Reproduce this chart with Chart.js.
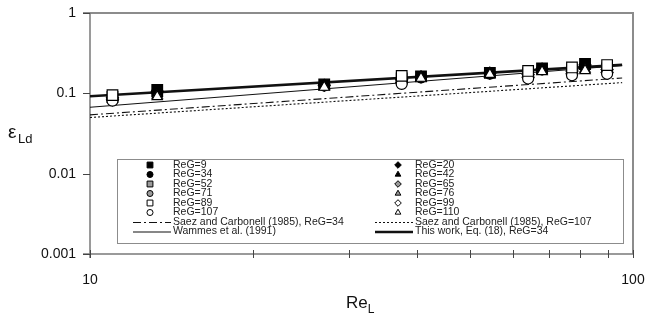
<!DOCTYPE html>
<html>
<head>
<meta charset="utf-8">
<script src="https://cdn.jsdelivr.net/npm/chart.js@4/dist/chart.umd.min.js"></script>
<style>
  html, body { margin: 0; padding: 0; background: #fff; }
  #wrap { width: 646px; height: 321px; }
</style>
</head>
<body>
<div id="wrap"><canvas id="c" width="646" height="321"></canvas></div>
<script>
// Liquid-phase axial dispersion vs liquid Reynolds number (log-log)

// --- axis ticks ---
const xTickValues = [10, 20, 30, 40, 50, 60, 70, 80, 90, 100];
const xTickLabels = ['10', '', '', '', '', '', '', '', '', '100'];
const yTickValues = [0.001, 0.01, 0.1, 1];
const yTickLabels = ['0.001', '0.01', '0.1', '1'];

// --- measured points, grouped by gas Reynolds number ---
// series measured at the "lower" ReL positions
const reA = [13.3, 27.0, 40.7, 54.5, 68.0, 81.6];
const epsReG9   = [0.110, 0.129, 0.163, 0.180, 0.205, 0.232];
const epsReG20  = [0.106, 0.126, 0.160, 0.178, 0.201, 0.226];
const epsReG34  = [0.104, 0.125, 0.158, 0.176, 0.199, 0.222];
const epsReG42  = [0.100, 0.123, 0.157, 0.175, 0.196, 0.218];
const epsReG76  = [0.095, 0.121, 0.156, 0.174, 0.190, 0.200];
const epsReG110 = [0.091, 0.119, 0.154, 0.172, 0.186, 0.192];
// series measured at the "upper" ReL positions
const reB = [11.0, 37.5, 64.1, 77.2, 89.6];
const epsReG52  = [0.090, 0.153, 0.178, 0.195, 0.205];
const epsReG65  = [0.088, 0.148, 0.172, 0.189, 0.198];
const epsReG71  = [0.086, 0.142, 0.166, 0.183, 0.190];
const epsReG89  = [0.095, 0.165, 0.190, 0.210, 0.225];
const epsReG99  = [0.083, 0.136, 0.159, 0.175, 0.182];
const epsReG107 = [0.081, 0.131, 0.153, 0.168, 0.175];

// --- correlations ---
const reLine = [10, 95.5];
const saez34   = [0.054, 0.155];
const saez107  = [0.050, 0.136];
const wammes   = [0.067, 0.222];
const thisWork = [0.092, 0.226];

const FONT = '"Liberation Sans", Arial, sans-serif';
const GREY = '#9a9a9a';

function pts(xs, ys) { return xs.map((x, i) => ({ x: x, y: ys[i] })); }

function marker(label, xs, ys, style, fill, radius, rotation) {
  return {
    type: 'scatter', label: label, data: pts(xs, ys),
    pointStyle: style, pointRadius: radius, pointHoverRadius: radius,
    pointRotation: rotation || 0,
    backgroundColor: fill, borderColor: '#000', pointBorderWidth: 1.2,
    showLine: false
  };
}
function curve(label, ys, width, dash) {
  return {
    type: 'scatter', label: label, data: pts(reLine, ys),
    showLine: true, pointRadius: 0, borderColor: '#111', backgroundColor: '#111',
    borderWidth: width, borderDash: dash, fill: false
  };
}

// first dataset is painted on top
const datasets = [
  marker('ReG=110', reA, epsReG110, 'triangle', '#fff', 6),
  marker('ReG=89',  reB, epsReG89,  'rect', '#fff', 7.5),
  marker('ReG=107', reB, epsReG107, 'circle', '#fff', 5.5),
  marker('ReG=99',  reB, epsReG99,  'rectRot', '#fff', 6),
  marker('ReG=71',  reB, epsReG71,  'circle', GREY, 5.5),
  marker('ReG=65',  reB, epsReG65,  'rectRot', GREY, 6),
  marker('ReG=52',  reB, epsReG52,  'rect', GREY, 7.5),
  marker('ReG=76',  reA, epsReG76,  'triangle', GREY, 6),
  marker('ReG=9',   reA, epsReG9,   'rect', '#000', 7.5),
  marker('ReG=20',  reA, epsReG20,  'rectRot', '#000', 6),
  marker('ReG=34',  reA, epsReG34,  'circle', '#000', 5.5),
  marker('ReG=42',  reA, epsReG42,  'triangle', '#000', 6),
  curve('This work, Eq. (18), ReG=34', thisWork, 2.6, []),
  curve('Wammes et al. (1991)', wammes, 1.1, []),
  curve('Saez and Carbonell (1985), ReG=34', saez34, 1.1, [8, 3, 2, 3]),
  curve('Saez and Carbonell (1985), ReG=107', saez107, 1.1, [2, 2])
];

const legendCols = [
  ['ReG=9', 'ReG=34', 'ReG=52', 'ReG=71', 'ReG=89', 'ReG=107',
   'Saez and Carbonell (1985), ReG=34', 'Wammes et al. (1991)'],
  ['ReG=20', 'ReG=42', 'ReG=65', 'ReG=76', 'ReG=99', 'ReG=110',
   'Saez and Carbonell (1985), ReG=107', 'This work, Eq. (18), ReG=34']
];

// frame, tick marks, axis titles and legend
const decorPlugin = {
  id: 'decor',
  beforeDatasetsDraw(chart) {
    const { ctx, chartArea: a, scales } = chart;
    ctx.save();
    ctx.lineCap = 'butt';
    // top and right border
    ctx.strokeStyle = '#8c8c8c';
    ctx.lineWidth = 2;
    ctx.beginPath();
    ctx.moveTo(a.left - 7, a.top); ctx.lineTo(a.right, a.top); ctx.lineTo(a.right, a.bottom);
    ctx.stroke();
    // left and bottom axes
    ctx.strokeStyle = '#7a7a7a';
    ctx.lineWidth = 1.5;
    ctx.beginPath();
    ctx.moveTo(a.left, a.top); ctx.lineTo(a.left, a.bottom + 4);
    ctx.moveTo(a.left - 7, a.bottom); ctx.lineTo(a.right, a.bottom);
    ctx.stroke();
    // x tick marks crossing the axis
    ctx.lineWidth = 1;
    ctx.strokeStyle = '#444';
    ctx.beginPath();
    xTickValues.forEach(v => {
      const px = Math.round(scales.x.getPixelForValue(v)) + 0.5;
      ctx.moveTo(px, a.bottom - 4); ctx.lineTo(px, a.bottom + 4);
    });
    // y tick marks outside
    yTickValues.forEach(v => {
      const py = Math.round(scales.y.getPixelForValue(v)) + 0.5;
      ctx.moveTo(a.left - 7, py); ctx.lineTo(a.left, py);
    });
    ctx.stroke();
    ctx.restore();
  },
  afterDraw(chart) {
    const { ctx } = chart;
    ctx.save();
    ctx.fillStyle = '#111';
    ctx.textBaseline = 'alphabetic';
    // y title: epsilon_Ld
    ctx.font = '19px ' + FONT;
    ctx.fillText('\u03B5', 8, 138);
    ctx.font = '13px ' + FONT;
    ctx.fillText('Ld', 18, 143);
    // x title: Re_L
    ctx.font = '17px ' + FONT;
    const w = ctx.measureText('Re').width;
    ctx.fillText('Re', 346, 308);
    ctx.font = '12px ' + FONT;
    ctx.fillText('L', 346 + w, 313);

    // legend box
    const box = { l: 117, t: 159, r: 623, b: 243 };
    ctx.fillStyle = '#fff';
    ctx.fillRect(box.l, box.t, box.r - box.l, box.b - box.t);
    ctx.strokeStyle = '#8c8c8c';
    ctx.lineWidth = 1;
    ctx.strokeRect(box.l + 0.5, box.t + 0.5, box.r - box.l, box.b - box.t);

    const cols = [
      { mx: 150, lx0: 133, lx1: 171, tx: 173 },
      { mx: 398, lx0: 375, lx1: 413, tx: 415 }
    ];
    ctx.font = '10.5px ' + FONT;
    ctx.textBaseline = 'middle';
    legendCols.forEach((labels, ci) => {
      const c = cols[ci];
      labels.forEach((lab, ri) => {
        const y = 165 + ri * 9.5;
        const ds = chart.data.datasets.find(d => d.label === lab);
        if (!ds) return;
        ctx.save();
        if (ds.showLine) {
          ctx.strokeStyle = ds.borderColor;
          ctx.lineWidth = ds.borderWidth;
          ctx.setLineDash(ds.borderDash || []);
          ctx.beginPath();
          ctx.moveTo(c.lx0, y + 0.5); ctx.lineTo(c.lx1, y + 0.5);
          ctx.stroke();
        } else {
          ctx.fillStyle = ds.backgroundColor;
          ctx.strokeStyle = '#000';
          ctx.lineWidth = 1;
          Chart.helpers.drawPoint(ctx, {
            pointStyle: ds.pointStyle, radius: ds.pointRadius * 0.55,
            rotation: 0, borderWidth: 1
          }, c.mx, y);
        }
        ctx.restore();
        ctx.fillStyle = '#222';
        ctx.fillText(lab, c.tx, y);
      });
    });
    ctx.restore();
  }
};

new Chart(document.getElementById('c'), {
  type: 'scatter',
  data: { datasets: datasets },
  plugins: [decorPlugin],
  options: {
    responsive: false,
    animation: false,
    layout: { padding: { top: 13, right: 13, left: 0, bottom: 0 } },
    plugins: { legend: { display: false }, tooltip: { enabled: false } },
    elements: { line: { tension: 0 } },
    scales: {
      x: {
        type: 'logarithmic', min: 10, max: 100,
        afterFit: s => { s.height = 67; s.paddingLeft = 0; s.paddingRight = 0; },
        afterBuildTicks: s => { s.ticks = xTickValues.map(v => ({ value: v })); },
        ticks: {
          autoSkip: false, maxRotation: 0, minRotation: 0, padding: 18,
          color: '#111', font: { family: FONT, size: 14 },
          callback: (v, i) => xTickLabels[i]
        },
        grid: { display: false, drawTicks: false },
        border: { display: false }
      },
      y: {
        type: 'logarithmic', min: 0.001, max: 1,
        afterFit: s => { s.width = 90; s.paddingTop = 0; s.paddingBottom = 0; },
        afterBuildTicks: s => { s.ticks = yTickValues.map(v => ({ value: v })); },
        ticks: {
          autoSkip: false, padding: 14,
          color: '#111', font: { family: FONT, size: 14 },
          callback: (v, i) => yTickLabels[i]
        },
        grid: { display: false, drawTicks: false },
        border: { display: false }
      }
    }
  }
});
</script>
</body>
</html>
